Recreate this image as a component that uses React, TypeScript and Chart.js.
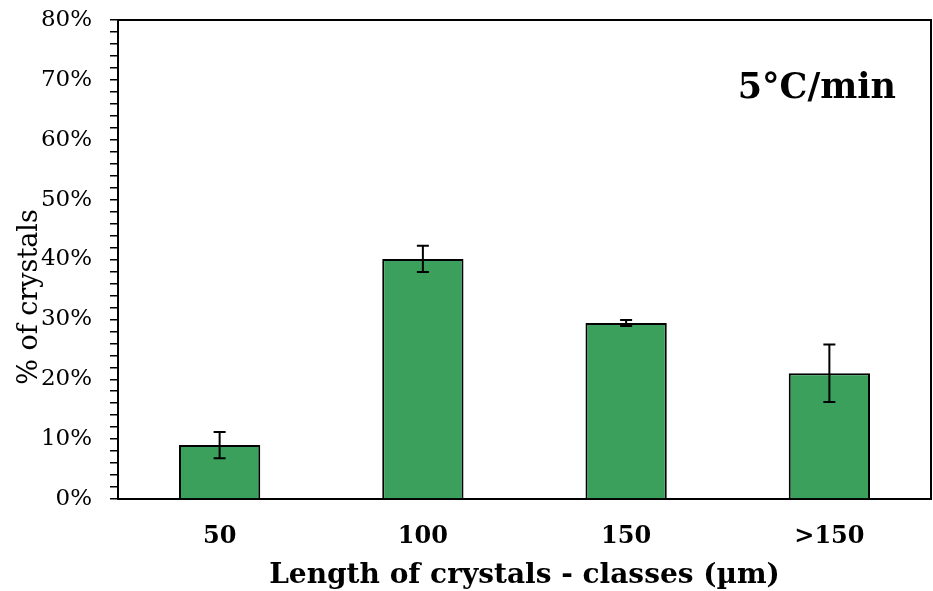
import React, { useEffect, useRef } from "react";
import { Chart, registerables } from "chart.js";

Chart.register(...registerables);

const categories = ["50", "100", "150", ">150"];
const percentValues = [9.0, 40.1, 29.4, 21.0];
const errorValues = [2.2, 2.2, 0.5, 4.8];
const yTickValues = [0, 10, 20, 30, 40, 50, 60, 70, 80];
const rateLabel = "5°C/min";
const xTitle = "Length of crystals - classes (µm)";
const yTitle = "% of crystals";

const SERIF = "'DejaVu Serif', 'Liberation Serif', serif";

const overlayPlugin = {
  id: "overlay",
  afterDatasetsDraw(chart: any) {
    const { ctx, chartArea, scales } = chart;
    const y = scales.y;
    const meta = chart.getDatasetMeta(0);
    ctx.save();
    ctx.strokeStyle = "#000";
    ctx.lineWidth = 2;
    meta.data.forEach((bar: any, i: number) => {
      const v = percentValues[i];
      const e = errorValues[i];
      const x = bar.x;
      const yt = y.getPixelForValue(v + e);
      const yb = y.getPixelForValue(v - e);
      ctx.beginPath();
      ctx.moveTo(x, yt);
      ctx.lineTo(x, yb);
      ctx.moveTo(x - 6, yt);
      ctx.lineTo(x + 6, yt);
      ctx.moveTo(x - 6, yb);
      ctx.lineTo(x + 6, yb);
      ctx.stroke();
    });
    ctx.lineWidth = 2;
    ctx.beginPath();
    ctx.moveTo(chartArea.left, chartArea.top);
    ctx.lineTo(chartArea.right, chartArea.top);
    ctx.lineTo(chartArea.right, chartArea.bottom);
    ctx.stroke();
    ctx.fillStyle = "#000";
    ctx.font = `bold 35px ${SERIF}`;
    ctx.textAlign = "right";
    ctx.textBaseline = "alphabetic";
    ctx.fillText(rateLabel, 896, 98);
    ctx.font = `bold 28px ${SERIF}`;
    ctx.textAlign = "center";
    ctx.textBaseline = "middle";
    ctx.fillText(xTitle, (chartArea.left + chartArea.right) / 2, 576);
    ctx.font = `27px ${SERIF}`;
    ctx.translate(30, 297);
    ctx.rotate(-Math.PI / 2);
    ctx.fillText(yTitle, 0, 0);
    ctx.restore();
  },
};

export default function App() {
  const ref = useRef<HTMLCanvasElement>(null);
  useEffect(() => {
    document.body.style.margin = "0";
    const chart = new Chart(ref.current!, {
      type: "bar",
      data: {
        labels: categories,
        datasets: [
          {
            data: percentValues,
            backgroundColor: "#3aa05c",
            borderColor: "#000",
            borderWidth: 2,
            categoryPercentage: 1,
            barPercentage: 0.4,
          },
        ],
      },
      options: {
        animation: false,
        responsive: false,
        layout: { padding: { top: 20, right: 2, left: 0, bottom: 0 } },
        plugins: { legend: { display: false }, tooltip: { enabled: false } },
        scales: {
          x: {
            grid: { display: false, drawTicks: false },
            border: { color: "#000", width: 2 },
            ticks: {
              color: "#000",
              padding: 23,
              font: { family: SERIF, size: 24, weight: "bold" },
            },
            afterFit(scale: any) {
              scale.height = 92;
              scale.paddingLeft = 0;
              scale.paddingRight = 0;
            },
          },
          y: {
            min: 0,
            max: 80,
            grid: {
              drawOnChartArea: false,
              drawTicks: true,
              tickLength: 8,
              color: "#000",
              lineWidth: 1.5,
            },
            border: { color: "#000", width: 2 },
            ticks: {
              stepSize: 2,
              color: "#000",
              padding: 18,
              autoSkip: false,
              font: { family: SERIF, size: 23 },
              callback: (v: any) => (yTickValues.includes(Number(v)) ? `${v}%` : ""),
            },
            afterFit(scale: any) {
              scale.width = 118;
              scale.paddingTop = 0;
              scale.paddingBottom = 0;
            },
          },
        },
      },
      plugins: [overlayPlugin],
    });
    return () => chart.destroy();
  }, []);
  return (
    <div style={{ width: 933, height: 591 }}>
      <canvas ref={ref} width={933} height={591} style={{ display: "block" }} />
    </div>
  );
}
